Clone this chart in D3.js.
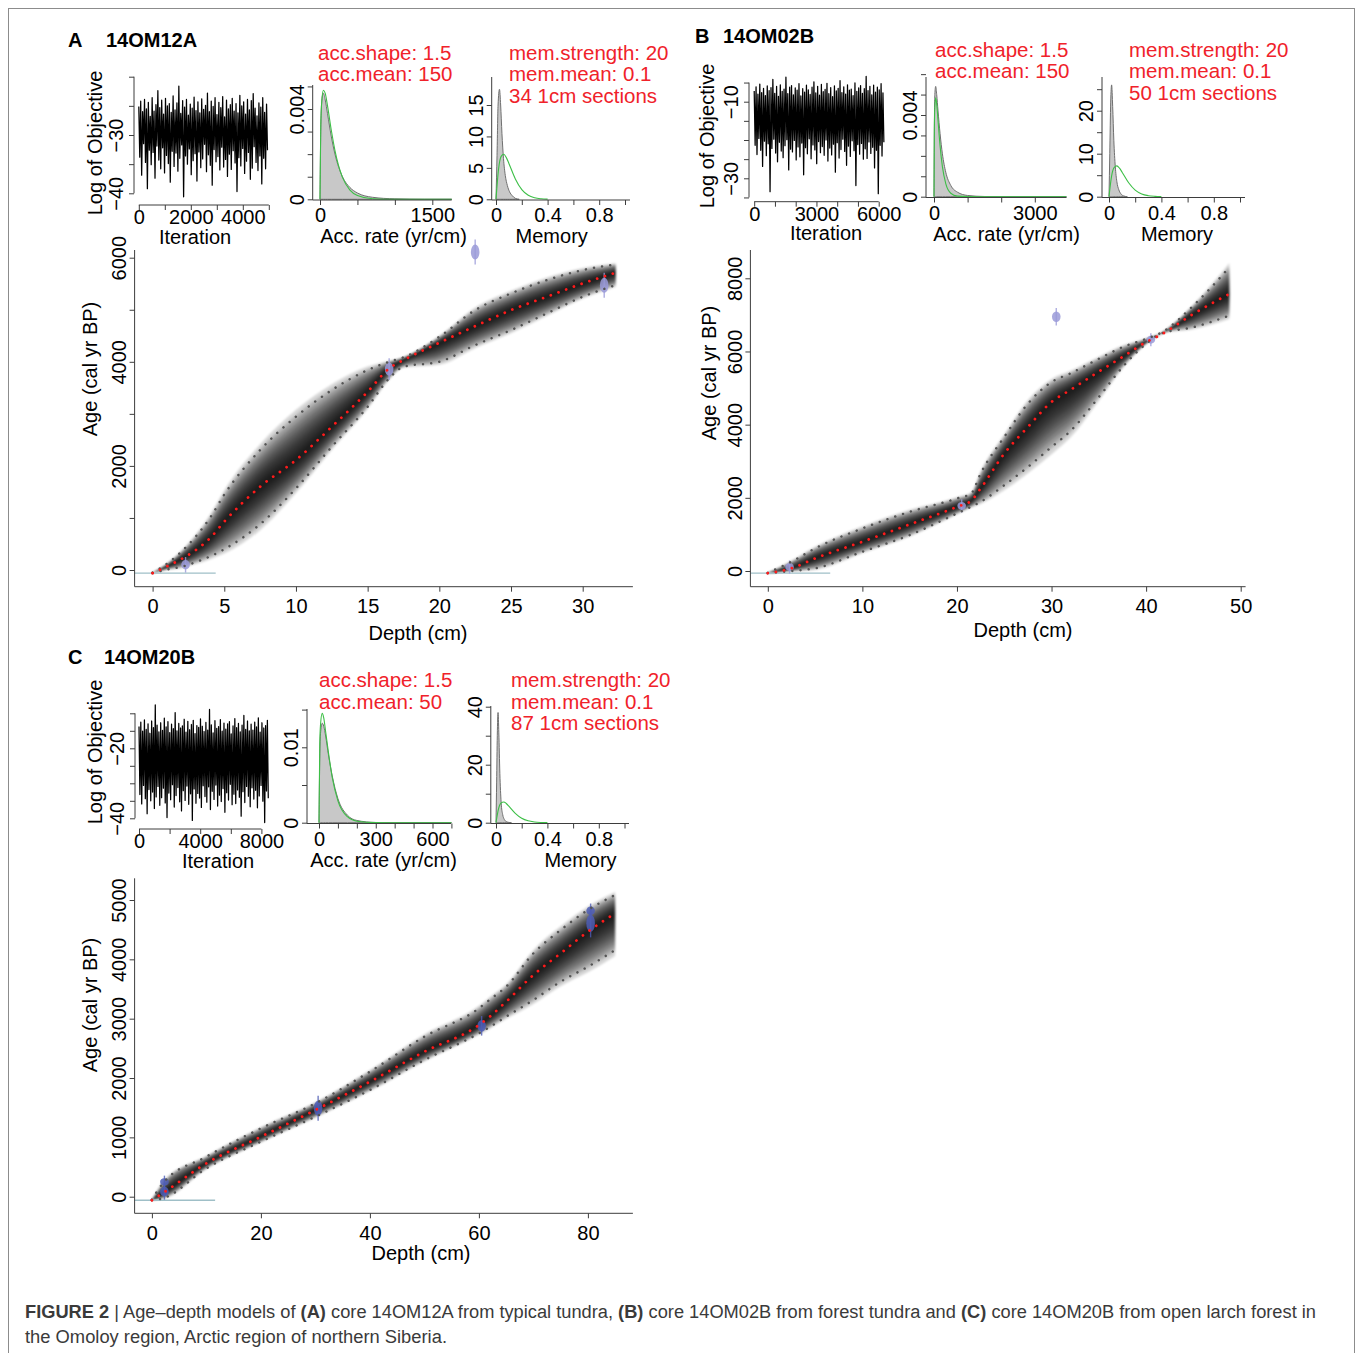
<!DOCTYPE html>
<html>
<head>
<meta charset="utf-8">
<title>Age-depth models</title>
<script src="https://cdn.jsdelivr.net/npm/d3@7/dist/d3.min.js"></script>
<style>
  html, body { margin: 0; padding: 0; background: #fff; }
  svg text { font-family: 'Liberation Sans', Arial, Helvetica, sans-serif; }
</style>
</head>
<body>
<svg id="figure" width="1358" height="1353"></svg>
<script>
// ---------- values ----------

// MCMC traces (log of objective), spread evenly over the iterations
const traceA = [
  -25.1,-33.8,-24.2,-36.9,-26.0,-31.5,-23.9,-34.7,-25.5,-39.2,-24.4,-32.6,-26.8,-35.1,-23.6,-33.0,-25.9,-37.4,-24.8,-31.9,
  -22.4,-34.3,-25.3,-35.8,-24.0,-32.2,-26.4,-36.5,-23.7,-33.5,-25.0,-34.9,-24.6,-38.1,-26.1,-32.8,-23.3,-35.4,-25.7,-33.1,
  -24.5,-36.2,-21.6,-34.0,-26.3,-31.7,-24.1,-40.6,-25.2,-33.6,-23.9,-35.0,-26.6,-32.4,-24.7,-36.8,-25.4,-34.4,-23.5,-33.2,
  -25.8,-37.9,-24.3,-32.9,-26.2,-35.6,-23.8,-34.1,-25.6,-31.6,-24.9,-36.3,-22.8,-33.4,-26.0,-35.2,-24.2,-38.6,-25.1,-32.5,
  -23.6,-34.6,-26.5,-33.7,-24.4,-36.0,-25.3,-32.1,-23.4,-35.5,-26.9,-34.2,-24.0,-37.1,-25.5,-33.3,-24.8,-35.9,-23.7,-32.7,
  -25.9,-34.8,-24.6,-39.7,-26.2,-33.9,-23.2,-35.3,-25.0,-32.3,-24.3,-36.6,-26.4,-34.5,-23.9,-33.0,-25.7,-37.6,-24.1,-35.7,
  -22.9,-32.0,-25.4,-34.7,-26.7,-36.1,-24.5,-33.6,-25.2,-38.4,-23.6,-34.0,-26.1,-35.8,-24.7,-32.6
];
const traceItersA = 4950;
const traceB = [
  -7.2,-21.4,-6.1,-23.8,-8.0,-19.6,-5.4,-22.7,-7.6,-26.9,-6.5,-20.3,-8.4,-24.1,-5.9,-21.0,-7.1,-33.5,-6.3,-22.2,
  -4.2,-19.8,-7.8,-23.4,-6.0,-25.7,-8.6,-20.6,-5.6,-22.9,-7.3,-24.6,-6.7,-21.5,-3.6,-19.9,-7.9,-27.8,-6.2,-22.4,
  -5.8,-23.1,-8.2,-20.1,-6.4,-25.2,-7.0,-21.8,-5.3,-24.4,-8.5,-20.8,-6.6,-29.1,-7.5,-22.0,-5.7,-23.6,-6.9,-19.7,
  -8.1,-24.9,-6.2,-21.3,-4.8,-22.6,-7.7,-26.2,-6.0,-20.4,-8.3,-23.3,-5.5,-21.7,-7.4,-24.0,-6.8,-20.0,-5.2,-25.5,
  -7.9,-22.1,-6.3,-23.9,-8.7,-21.1,-5.9,-28.4,-7.2,-20.7,-6.5,-24.7,-4.5,-22.5,-7.6,-19.8,-6.1,-23.0,-8.0,-26.6,
  -5.6,-21.6,-7.0,-24.3,-6.7,-20.2,-8.4,-22.8,-5.1,-31.9,-7.3,-21.2,-6.4,-23.7,-5.8,-20.9,-7.8,-25.0,-6.6,-22.3,
  -3.4,-24.8,-7.1,-20.5,-6.0,-23.5,-8.2,-21.9,-5.7,-27.3,-7.5,-22.7,-6.2,-34.0,-6.9,-21.4,-5.3,-24.2,-7.7,-20.6
];
const traceItersB = 6250;
const traceC = [
  -13.8,-33.2,-12.5,-35.9,-15.1,-30.6,-11.9,-34.4,-14.6,-38.7,-13.0,-31.8,-15.7,-35.0,-12.2,-32.5,-14.1,-37.2,-7.6,-33.9,
  -13.4,-30.9,-15.3,-36.3,-12.7,-34.1,-14.9,-31.4,-11.4,-35.6,-13.9,-39.8,-12.4,-32.8,-15.5,-34.7,-13.1,-30.4,-14.4,-36.8,
  -9.8,-33.5,-15.0,-31.2,-12.9,-35.3,-14.2,-37.9,-13.6,-32.1,-11.7,-34.9,-15.4,-30.8,-12.3,-36.0,-14.7,-33.0,-13.2,-40.6,
  -12.0,-31.6,-15.8,-35.7,-13.5,-32.9,-14.0,-34.2,-11.6,-36.9,-13.7,-30.7,-15.2,-33.8,-12.6,-35.4,-14.8,-31.0,-8.9,-37.5,
  -13.3,-32.3,-15.6,-34.6,-12.1,-30.5,-14.3,-36.5,-13.8,-33.4,-11.8,-35.2,-15.1,-31.5,-12.8,-38.3,-14.5,-32.7,-13.0,-34.8,
  -12.4,-30.3,-15.9,-36.1,-13.6,-33.1,-11.5,-35.8,-14.1,-31.9,-12.9,-34.0,-15.3,-39.4,-13.4,-32.4,-10.6,-35.5,-14.6,-30.9,
  -12.2,-33.7,-15.0,-36.7,-13.1,-31.3,-14.8,-34.5,-12.5,-32.0,-13.9,-37.0,-11.3,-33.6,-15.4,-30.6,-12.7,-35.1,-14.2,-41.2,
  -13.5,-32.2,-12.0,-34.3
];
const traceItersC = 8450;

// accumulation rate: posterior (grey) and prior (green) densities
const accXA     = [0, 10, 25, 45, 70, 100, 150, 200, 300, 400, 500, 700, 1000, 1400, 1760];
const accPostA  = [0, 0.0030, 0.0044, 0.0047, 0.0044, 0.0038, 0.0028, 0.0020, 0.0010, 0.00052, 0.00028, 0.00009, 0.00002, 0, 0];
const accPriorA = [0, 0.00323, 0.00439, 0.00483, 0.00469, 0.00415, 0.00308, 0.00216, 0.00097, 0.00041, 0.00017, 0.000027, 0.000002, 0, 0];
const accXB     = [0, 10, 25, 50, 80, 120, 180, 250, 350, 500, 700, 1000, 1500, 2000, 3940];
const accPostB  = [0, 0.0032, 0.0050, 0.0054, 0.0050, 0.0042, 0.0031, 0.0021, 0.0012, 0.00055, 0.00022, 0.00006, 0.00001, 0, 0];
const accPriorB = [0, 0.00323, 0.00439, 0.00484, 0.00453, 0.00372, 0.00250, 0.00147, 0.00064, 0.00017, 0.000027, 0.000002, 0, 0, 0];
const accXC     = [0, 4, 8, 17, 25, 35, 50, 70, 100, 150, 200, 300, 400, 700];
const accPostC  = [0, 0.0085, 0.0118, 0.0132, 0.0128, 0.0115, 0.0090, 0.0062, 0.0032, 0.0010, 0.0003, 0.00003, 0, 0];
const accPriorC = [0, 0.0104, 0.0130, 0.0145, 0.0139, 0.0121, 0.0093, 0.0060, 0.0029, 0.0008, 0.0002, 0.00001, 0, 0];

// memory: posterior (grey) per core, prior (green) shared
const memPriorX = [0, 0.02, 0.04, 0.06, 0.08, 0.1, 0.15, 0.2, 0.25, 0.3, 0.35, 0.4];
const memPriorY = [0, 4.85, 6.83, 7.16, 6.63, 5.70, 3.24, 1.54, 0.64, 0.24, 0.08, 0.02];
const memXA    = [0, 0.008, 0.016, 0.027, 0.036, 0.046, 0.058, 0.072, 0.088, 0.105, 0.125, 0.15, 0.18];
const memPostA = [0, 7, 15, 17.5, 15, 10.5, 6.5, 3.8, 2.2, 1.2, 0.6, 0.15, 0];
const memXB    = [0, 0.006, 0.013, 0.02, 0.028, 0.037, 0.048, 0.06, 0.075, 0.09, 0.11, 0.14];
const memPostB = [0, 10, 22, 26, 21, 13, 7, 3.5, 1.6, 0.7, 0.2, 0];
const memXC    = [0, 0.005, 0.01, 0.016, 0.022, 0.03, 0.04, 0.052, 0.065, 0.08, 0.1, 0.12];
const memPostC = [0, 14, 30, 38, 31, 17, 7, 2.8, 1.1, 0.4, 0.1, 0];

// age-depth models: mean and 95% range (cal yr BP) by depth (cm)
const depthA = [0, 1, 2, 3, 4, 5, 7.5, 10, 12.5, 15, 16.5, 17.5, 20, 22.5, 25, 27.5, 30, 32.3];
const meanA  = [-60, 70, 210, 380, 610, 930, 1600, 2113, 2753, 3425, 3873, 4033, 4366, 4686, 4994, 5250, 5506, 5711];
const upperA = [-50, 120, 350, 640, 1000, 1450, 2305, 2945, 3457, 3841, 4001, 4085, 4481, 4994, 5314, 5570, 5762, 5870];
const lowerA = [-60, 10, 60, 150, 260, 400, 880, 1568, 2369, 3137, 3681, 3905, 4001, 4321, 4609, 4930, 5250, 5474];
const depthB = [0, 2.5, 5, 10, 15, 20, 21.5, 22.5, 25, 27.5, 30, 32, 35, 37.5, 40, 41.5, 45, 48.8];
const meanB  = [-60, 73, 345, 800, 1273, 1755, 1918, 2255, 3209, 3936, 4620, 4950, 5450, 5850, 6255, 6450, 7027, 7573];
const upperB = [-50, 255, 618, 1164, 1618, 1982, 2118, 2664, 3664, 4573, 5164, 5400, 5800, 6118, 6345, 6500, 7255, 8300];
const lowerB = [-60, 0, 73, 527, 982, 1573, 1755, 1891, 2345, 2845, 3391, 3827, 4755, 5573, 6209, 6482, 6664, 6982];
const depthC = [0, 2, 10, 20, 30, 40, 50, 60, 62, 65, 70, 75, 80, 85];
const meanC  = [-60, 60, 562, 1011, 1461, 1938, 2444, 2893, 3034, 3287, 3736, 4101, 4466, 4775];
const upperC = [-50, 225, 674, 1152, 1573, 2107, 2697, 3174, 3320, 3539, 4101, 4494, 4831, 5084];
const lowerC = [-60, -28, 478, 927, 1348, 1798, 2303, 2753, 2860, 3034, 3315, 3624, 3876, 4157];

// calibrated dates (depth cm, age cal yr BP, spread)
const dateDepthA = [2.3, 16.5, 22.5, 31.5];
const dateAgeA   = [100, 3860, 6110, 5470];
const dateErrA   = [50, 70, 80, 80];
const dateDepthB = [2.3, 20.5, 30.5, 40.5];
const dateAgeB   = [110, 1780, 6950, 6320];
const dateErrB   = [60, 60, 80, 60];
const dateDepthC = [2.3, 2.3, 30.5, 60.5, 80.5, 80.5];
const dateAgeC   = [250, 85, 1490, 2880, 4820, 4610];
const dateErrC   = [35, 45, 70, 55, 40, 80];

// surface age line: [age, last depth]
const surfaceA = [-60, 4.4];
const surfaceB = [-60, 6.6];
const surfaceC = [-60, 11.6];

// panel texts
const panelLetters = ['A', 'B', 'C'];
const panelCores = ['14OM12A', '14OM02B', '14OM20B'];
const accTextA = ['acc.shape: 1.5', 'acc.mean: 150'];
const accTextB = ['acc.shape: 1.5', 'acc.mean: 150'];
const accTextC = ['acc.shape: 1.5', 'acc.mean: 50'];
const memTextA = ['mem.strength: 20', 'mem.mean: 0.1', '34 1cm sections'];
const memTextB = ['mem.strength: 20', 'mem.mean: 0.1', '50 1cm sections'];
const memTextC = ['mem.strength: 20', 'mem.mean: 0.1', '87 1cm sections'];

// tick values and the ones that carry a label
const traceXTicksA = [0, 1000, 2000, 3000, 4000, 5000], traceXLabA = [0, 2000, 4000];
const traceYTicksA = [-40, -35, -30, -25, -20], traceYLabA = [-40, -30];
const traceXTicksB = [0, 1000, 2000, 3000, 4000, 5000, 6000], traceXLabB = [0, 3000, 6000];
const traceYTicksB = [-35, -30, -25, -20, -15, -10, -5], traceYLabB = [-30, -10];
const traceXTicksC = [0, 2000, 4000, 6000, 8000], traceXLabC = [0, 4000, 8000];
const traceYTicksC = [-40, -35, -30, -25, -20, -15, -10], traceYLabC = [-40, -20];
const accXTicksA = [0, 500, 1000, 1500], accXLabA = [0, 1500];
const accYTicksA = [0, 0.001, 0.002, 0.003, 0.004, 0.005], accYLabA = [0, 0.004];
const accXTicksB = [0, 1000, 2000, 3000], accXLabB = [0, 3000];
const accYTicksB = [0, 0.001, 0.002, 0.003, 0.004, 0.005, 0.006], accYLabB = [0, 0.004];
const accXTicksC = [0, 100, 200, 300, 400, 500, 600, 700], accXLabC = [0, 300, 600];
const accYTicksC = [0, 0.005, 0.01, 0.015], accYLabC = [0, 0.01];
const memXTicks = [0, 0.2, 0.4, 0.6, 0.8, 1], memXLab = [0, 0.4, 0.8];
const memYTicksA = [0, 5, 10, 15], memYLabA = [0, 5, 10, 15];
const memYTicksB = [0, 5, 10, 15, 20, 25], memYLabB = [0, 10, 20];
const memYTicksC = [0, 10, 20, 30, 40], memYLabC = [0, 20, 40];
const ageTicksA = [0, 1000, 2000, 3000, 4000, 5000, 6000], ageLabA = [0, 2000, 4000, 6000];
const depthTicksA = [0, 5, 10, 15, 20, 25, 30];
const ageTicksB = [0, 2000, 4000, 6000, 8000], ageLabB = [0, 2000, 4000, 6000, 8000];
const depthTicksB = [0, 10, 20, 30, 40, 50];
const ageTicksC = [0, 1000, 2000, 3000, 4000, 5000], ageLabC = [0, 1000, 2000, 3000, 4000, 5000];
const depthTicksC = [0, 20, 40, 60, 80];

const captionLine1 = [
  ['FIGURE 2', true], [' | Age\u2013depth models of ', false], ['(A)', true],
  [' core 14OM12A from typical tundra, ', false], ['(B)', true],
  [' core 14OM02B from forest tundra and ', false], ['(C)', true],
  [' core 14OM20B from open larch forest in', false]
];
const captionLine2 = 'the Omoloy region, Arctic region of northern Siberia.';

// ---------- drawing ----------

const svg = d3.select('#figure');
const AXIS = '#3d3d3d';
const RED = '#f0222a';
const GREEN = '#3cbf46';

svg.append('defs').append('filter').attr('id', 'soft')
  .append('feGaussianBlur').attr('stdDeviation', 1.2);

// outer frame of the figure
svg.append('rect')
  .attr('x', 8.5).attr('y', 8.5).attr('width', 1346).attr('height', 1360)
  .attr('fill', 'none').attr('stroke', '#8c8c8c');

const fmt = (d) => (d < 0 ? '\u2212' + Math.abs(d) : String(d));

function leftAxis(g, scale, x, ticks, labels, top, bottom, offset) {
  const ax = g.append('g')
    .attr('transform', `translate(${x},0)`)
    .call(d3.axisLeft(scale).tickValues(ticks).tickSize(5).tickSizeOuter(0)
      .tickFormat((d) => (labels.indexOf(d) >= 0 ? fmt(d) : '')));
  ax.attr('font-size', 20).attr('font-family', null);
  ax.select('.domain').attr('d', `M0,${top}V${bottom}`).attr('stroke', AXIS);
  ax.selectAll('.tick line').attr('stroke', AXIS);
  ax.selectAll('.tick text')
    .attr('transform', 'rotate(-90)')
    .attr('x', 0).attr('y', -offset).attr('dy', 0)
    .attr('text-anchor', 'middle').attr('fill', '#000');
}

function bottomAxis(g, scale, y, ticks, labels, left, right, offset) {
  const ax = g.append('g')
    .attr('transform', `translate(0,${y})`)
    .call(d3.axisBottom(scale).tickValues(ticks).tickSize(5).tickSizeOuter(0)
      .tickFormat((d) => (labels.indexOf(d) >= 0 ? fmt(d) : '')));
  ax.attr('font-size', 20).attr('font-family', null);
  ax.select('.domain').attr('d', `M${left},0H${right}`).attr('stroke', AXIS);
  ax.selectAll('.tick line').attr('stroke', AXIS);
  ax.selectAll('.tick text').attr('y', offset).attr('dy', '0.35em').attr('fill', '#000');
}

function title(g, text, x, y, rotate) {
  g.append('text')
    .attr('transform', `translate(${x},${y})${rotate ? ' rotate(-90)' : ''}`)
    .attr('text-anchor', 'middle').attr('dy', '0.35em')
    .attr('font-size', 20).text(text);
}

function drawTrace(c, values, iters) {
  const g = svg.append('g');
  const x = d3.scaleLinear().domain(c.xDom).range(c.xRange);
  const y = d3.scaleLinear().domain(c.yDom).range(c.yRange);
  const step = iters / (values.length - 1);
  const line = d3.line().x((d, i) => x(i * step)).y((d) => y(d));

  g.append('path').datum(values)
    .attr('d', line)
    .attr('fill', 'none').attr('stroke', '#000')
    .attr('stroke-width', 1.25).attr('stroke-linejoin', 'round');

  leftAxis(g, y, c.axisX, c.yTicks, c.yLab, y(c.yTicks[c.yTicks.length - 1]), y(c.yTicks[0]), 11);
  bottomAxis(g, x, c.axisY, c.xTicks, c.xLab, x(c.xTicks[0]), x(c.xTicks[c.xTicks.length - 1]), 12);
  title(g, 'Iteration', c.titleX, c.axisY + 31.5, false);
  title(g, 'Log of Objective', c.yTitleX, c.yTitleY, true);
}

function drawDensity(c, postX, postY, priorX, priorY, name) {
  const g = svg.append('g');
  const x = d3.scaleLinear().domain(c.xDom).range(c.xRange);
  const y = d3.scaleLinear().domain(c.yDom).range(c.yRange);

  const area = d3.area()
    .x((d, i) => x(postX[i]))
    .y0(y(0))
    .y1((d) => y(d))
    .curve(d3.curveMonotoneX);
  g.append('path').datum(postY)
    .attr('d', area)
    .attr('fill', '#c8c8c8').attr('stroke', '#707070').attr('stroke-width', 1);

  const prior = d3.line()
    .x((d, i) => x(priorX[i]))
    .y((d) => y(d))
    .curve(d3.curveMonotoneX);
  g.append('path').datum(priorY)
    .attr('d', prior)
    .attr('fill', 'none').attr('stroke', GREEN).attr('stroke-width', 1.1);

  // L-shaped box
  leftAxis(g, y, c.axisX, c.yTicks, c.yLab, c.top, c.axisY, 9);
  bottomAxis(g, x, c.axisY, c.xTicks, c.xLab, c.axisX, c.right, 15);
  title(g, name, c.titleX, c.axisY + 36, false);
}

function drawSettings(lines, x, y0) {
  svg.append('g').selectAll('text')
    .data(lines)
    .join('text')
    .attr('x', x)
    .attr('y', (d, i) => y0 + i * 21.5)
    .attr('font-size', 20.5)
    .attr('fill', RED)
    .text((d) => d);
}

// nested envelopes between the mean and the 95% bounds give the grey cloud
const cloudLayers = [1.16, 1.04, 0.94, 0.84, 0.74, 0.64, 0.55, 0.46, 0.38, 0.3, 0.22, 0.15, 0.08];

function drawAgeDepth(c, m) {
  const g = svg.append('g');
  const x = d3.scaleLinear().domain(c.xDom).range(c.xRange);
  const y = d3.scaleLinear().domain(c.yDom).range(c.yRange);

  const cloud = g.append('g').attr('filter', 'url(#soft)');
  cloudLayers.forEach((f) => {
    const band = d3.area()
      .x((d, i) => x(m.depth[i]))
      .y0((d, i) => y(d + f * (m.lower[i] - d)))
      .y1((d, i) => y(d + f * (m.upper[i] - d)))
      .curve(d3.curveMonotoneX);
    cloud.append('path').datum(m.mean)
      .attr('d', band)
      .attr('fill', '#000').attr('fill-opacity', 0.16);
  });

  // surface (sampling year) line
  g.append('line')
    .attr('x1', c.axisX).attr('x2', x(m.surface[1]))
    .attr('y1', y(m.surface[0])).attr('y2', y(m.surface[0]))
    .attr('stroke', '#9fbfc7').attr('stroke-width', 1.3);

  // calibrated dates
  const dates = g.append('g').attr('fill', m.dateCol).attr('stroke', m.dateCol);
  m.dateDepth.forEach((dd, i) => {
    const cx = x(dd);
    const cy = y(m.dateAge[i]);
    dates.append('line')
      .attr('x1', cx).attr('x2', cx)
      .attr('y1', y(m.dateAge[i] + 3 * m.dateErr[i])).attr('y2', y(m.dateAge[i] - 3 * m.dateErr[i]))
      .attr('stroke-width', 1.4).attr('stroke-opacity', 0.8);
    dates.append('ellipse')
      .attr('cx', cx).attr('cy', cy)
      .attr('rx', 4.3).attr('ry', Math.abs(y(m.dateAge[i] + 1.8 * m.dateErr[i]) - cy))
      .attr('stroke', 'none').attr('fill-opacity', 0.85);
  });

  const lineOf = (key) => d3.line()
    .x((d, i) => x(m.depth[i]))
    .y((d) => y(d))
    .curve(d3.curveMonotoneX)(m[key]);

  ['upper', 'lower'].forEach((key) => {
    g.append('path').attr('d', lineOf(key))
      .attr('fill', 'none').attr('stroke', '#555')
      .attr('stroke-width', 2.5).attr('stroke-linecap', 'round')
      .attr('stroke-dasharray', '0.01 8.2');
  });
  g.append('path').attr('d', lineOf('mean'))
    .attr('fill', 'none').attr('stroke', '#ff1a1a')
    .attr('stroke-width', 2.8).attr('stroke-linecap', 'round')
    .attr('stroke-dasharray', '0.01 8.2');

  leftAxis(g, y, c.axisX, c.yTicks, c.yLab, c.top, c.axisY, 8.5);
  bottomAxis(g, x, c.axisY, c.xTicks, c.xTicks, c.axisX, c.right, 19.5);
  title(g, 'Depth (cm)', c.titleX, c.titleY, false);
  title(g, 'Age (cal yr BP)', c.yTitleX, c.yTitleY, true);
}

function drawHeading(i, x, xCore, y) {
  const t = svg.append('text').attr('x', x).attr('y', y)
    .attr('font-size', 20).attr('font-weight', 'bold');
  t.append('tspan').text(panelLetters[i]);
  t.append('tspan').attr('x', xCore).text(panelCores[i]);
}

// ---- panel A ----
drawHeading(0, 68, 106, 47);
drawTrace({
  xDom: [0, 4000], xRange: [138.8, 242.8], yDom: [-40, -30], yRange: [193.3, 135],
  axisX: 134, axisY: 205, xTicks: traceXTicksA, xLab: traceXLabA, yTicks: traceYTicksA, yLab: traceYLabA,
  titleX: 195, yTitleX: 95, yTitleY: 143
}, traceA, traceItersA);
drawDensity({
  xDom: [0, 1500], xRange: [320, 432.3], yDom: [0, 0.004], yRange: [199.3, 109],
  axisX: 312.7, axisY: 200, top: 85, right: 451.7,
  xTicks: accXTicksA, xLab: accXLabA, yTicks: accYTicksA, yLab: accYLabA, titleX: 393.5
}, accXA, accPostA, accXA, accPriorA, 'Acc. rate (yr/cm)');
drawDensity({
  xDom: [0, 1], xRange: [496, 625], yDom: [0, 15], yRange: [199.3, 105],
  axisX: 491.7, axisY: 200, top: 77, right: 630,
  xTicks: memXTicks, xLab: memXLab, yTicks: memYTicksA, yLab: memYLabA, titleX: 551.7
}, memXA, memPostA, memPriorX, memPriorY, 'Memory');
drawSettings(accTextA, 318, 59.5);
drawSettings(memTextA, 509, 59.5);
drawAgeDepth({
  xDom: [0, 30], xRange: [152.6, 582.7], yDom: [0, 6000], yRange: [570, 257.7],
  axisX: 134.6, axisY: 586.7, top: 250, right: 632.9,
  xTicks: depthTicksA, yTicks: ageTicksA, yLab: ageLabA,
  titleX: 418, titleY: 633, yTitleX: 90, yTitleY: 369
}, {
  depth: depthA, mean: meanA, upper: upperA, lower: lowerA, surface: surfaceA,
  dateDepth: dateDepthA, dateAge: dateAgeA, dateErr: dateErrA, dateCol: '#9a9ad8'
});

// ---- panel B ----
drawHeading(1, 695, 723, 43);
drawTrace({
  xDom: [0, 6000], xRange: [754.2, 878.7], yDom: [-30, -10], yRange: [178.3, 101.7],
  axisX: 749, axisY: 201.7, xTicks: traceXTicksB, xLab: traceXLabB, yTicks: traceYTicksB, yLab: traceYLabB,
  titleX: 826, yTitleX: 707, yTitleY: 136
}, traceB, traceItersB);
drawDensity({
  xDom: [0, 3000], xRange: [934, 1034.8], yDom: [0, 0.004], yRange: [196.7, 115],
  axisX: 926, axisY: 197.5, top: 77, right: 1066.5,
  xTicks: accXTicksB, xLab: accXLabB, yTicks: accYTicksB, yLab: accYLabB, titleX: 1006.5
}, accXB, accPostB, accXB, accPriorB, 'Acc. rate (yr/cm)');
drawDensity({
  xDom: [0, 1], xRange: [1109, 1240], yDom: [0, 20], yRange: [196.7, 110.7],
  axisX: 1102, axisY: 197.5, top: 77, right: 1245,
  xTicks: memXTicks, xLab: memXLab, yTicks: memYTicksB, yLab: memYLabB, titleX: 1177
}, memXB, memPostB, memPriorX, memPriorY, 'Memory');
drawSettings(accTextB, 935, 56.5);
drawSettings(memTextB, 1129, 56.5);
drawAgeDepth({
  xDom: [0, 50], xRange: [767.8, 1240.7], yDom: [0, 8000], yRange: [571, 278.3],
  axisX: 750.4, axisY: 586.7, top: 250, right: 1245.6,
  xTicks: depthTicksB, yTicks: ageTicksB, yLab: ageLabB,
  titleX: 1023, titleY: 630, yTitleX: 708.5, yTitleY: 373
}, {
  depth: depthB, mean: meanB, upper: upperB, lower: lowerB, surface: surfaceB,
  dateDepth: dateDepthB, dateAge: dateAgeB, dateErr: dateErrB, dateCol: '#9a9ad8'
});

// ---- panel C ----
drawHeading(2, 68, 104, 664);
drawTrace({
  xDom: [0, 8000], xRange: [139, 261.4], yDom: [-40, -20], yRange: [818.3, 748.3],
  axisX: 135, axisY: 829, xTicks: traceXTicksC, xLab: traceXLabC, yTicks: traceYTicksC, yLab: traceYLabC,
  titleX: 218, yTitleX: 95, yTitleY: 752
}, traceC, traceItersC);
drawDensity({
  xDom: [0, 600], xRange: [319, 432.5], yDom: [0, 0.01], yRange: [822.7, 747.3],
  axisX: 307, axisY: 823.5, top: 709, right: 451,
  xTicks: accXTicksC, xLab: accXLabC, yTicks: accYTicksC, yLab: accYLabC, titleX: 383.5
}, accXC, accPostC, accXC, accPriorC, 'Acc. rate (yr/cm)');
drawDensity({
  xDom: [0, 1], xRange: [496, 624.5], yDom: [0, 40], yRange: [822.7, 706.7],
  axisX: 490.8, axisY: 823.5, top: 706, right: 629,
  xTicks: memXTicks, xLab: memXLab, yTicks: memYTicksC, yLab: memYLabC, titleX: 580.5
}, memXC, memPostC, memPriorX, memPriorY, 'Memory');
drawSettings(accTextC, 319, 687);
drawSettings(memTextC, 511, 687);
drawAgeDepth({
  xDom: [0, 80], xRange: [151.9, 587.9], yDom: [0, 5000], yRange: [1196.7, 900],
  axisX: 134.6, axisY: 1213.3, top: 878.3, right: 632.9,
  xTicks: depthTicksC, yTicks: ageTicksC, yLab: ageLabC,
  titleX: 421, titleY: 1253.3, yTitleX: 90, yTitleY: 1005
}, {
  depth: depthC, mean: meanC, upper: upperC, lower: lowerC, surface: surfaceC,
  dateDepth: dateDepthC, dateAge: dateAgeC, dateErr: dateErrC, dateCol: '#4d5db5'
});

// ---- caption ----
const cap1 = svg.append('text')
  .attr('x', 25).attr('y', 1318)
  .attr('font-size', 18).attr('fill', '#3a3a3a')
  .style('font-family', "'Liberation Sans Narrow', 'Liberation Sans', Arial, sans-serif")
  .attr('textLength', 1291).attr('lengthAdjust', 'spacingAndGlyphs');
captionLine1.forEach(([txt, bold]) => {
  cap1.append('tspan').attr('font-weight', bold ? 'bold' : null).text(txt);
});
svg.append('text')
  .attr('x', 25).attr('y', 1343)
  .attr('font-size', 18).attr('fill', '#3a3a3a')
  .style('font-family', "'Liberation Sans Narrow', 'Liberation Sans', Arial, sans-serif")
  .attr('textLength', 422).attr('lengthAdjust', 'spacingAndGlyphs')
  .text(captionLine2);
</script>
</body>
</html>
